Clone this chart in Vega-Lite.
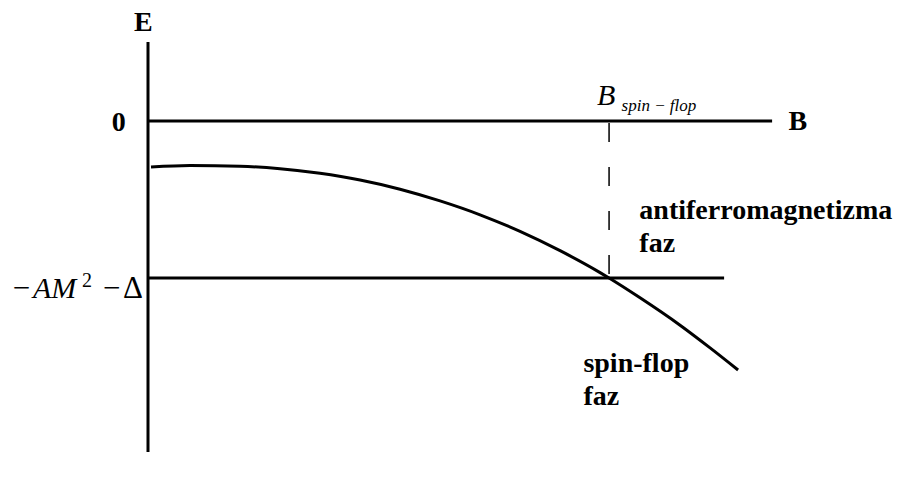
{
  "$schema": "https://vega.github.io/schema/vega-lite/v6.json",
  "width": 900,
  "height": 480,
  "autosize": {"type": "fit", "contains": "padding"},
  "padding": 0,
  "background": "white",
  "config": {"view": {"stroke": null}},
  "datasets": {
    "axes": [
      {"name": "E axis", "B1": 0, "E1": 0.503, "B2": 0, "E2": -2.108},
      {"name": "B axis", "B1": 0, "E1": 0, "B2": 1.3536, "E2": 0},
      {"name": "AF level", "B1": 0, "E1": -1, "B2": 1.2495, "E2": -1}
    ],
    "transition": [
      {"B1": 1, "E1": -0.0127, "B2": 1, "E2": -1}
    ],
    "spinflop": [
      {"B": 0.0065, "E": -0.293},
      {"B": 0.0911, "E": -0.2834},
      {"B": 0.1996, "E": -0.2879},
      {"B": 0.2863, "E": -0.3038},
      {"B": 0.3731, "E": -0.3331},
      {"B": 0.4599, "E": -0.3758},
      {"B": 0.5466, "E": -0.4344},
      {"B": 0.6334, "E": -0.5089},
      {"B": 0.7202, "E": -0.5975},
      {"B": 0.8069, "E": -0.7032},
      {"B": 0.8937, "E": -0.8261},
      {"B": 0.9805, "E": -0.9656},
      {"B": 1.0, "E": -1.0},
      {"B": 1.0672, "E": -1.1261},
      {"B": 1.154, "E": -1.3006},
      {"B": 1.2191, "E": -1.4452},
      {"B": 1.2798, "E": -1.586}
    ],
    "boldLabels": [
      {"text": "E", "B": -0.0304, "E": 0.5732},
      {"text": "0", "B": -0.0788, "E": -0.0618},
      {"text": "B", "B": 1.389, "E": -0.0573},
      {"text": "antiferromagnetizma", "B": 1.0657, "E": -0.6242},
      {"text": "faz", "B": 1.0657, "E": -0.8344},
      {"text": "spin-flop", "B": 0.9443, "E": -1.6000},
      {"text": "faz", "B": 0.9443, "E": -1.8102}
    ],
    "italicBig": [
      {"text": "B", "B": 0.974, "E": 0.105},
      {"text": "AM", "B": -0.2495, "E": -1.1274}
    ],
    "italicSub": [
      {"text": "spin − flop", "B": 1.0271, "E": 0.0637}
    ],
    "upright": [
      {"text": "−", "B": -0.2935, "E": -1.1274},
      {"text": "−", "B": -0.0976, "E": -1.1274},
      {"text": "Δ", "B": -0.0542, "E": -1.1274}
    ],
    "superscript": [
      {"text": "2", "B": -0.1432, "E": -1.0573}
    ]
  },
  "layer": [
    {
      "data": {"name": "axes"},
      "mark": {"type": "rule", "strokeWidth": 3, "color": "black", "strokeCap": "butt"},
      "encoding": {
        "x": {"field": "B1", "type": "quantitative", "scale": {"domain": [-0.321, 1.631], "nice": false, "zero": false}, "axis": null},
        "y": {"field": "E1", "type": "quantitative", "scale": {"domain": [-2.2866, 0.7707], "nice": false, "zero": false}, "axis": null},
        "x2": {"field": "B2"},
        "y2": {"field": "E2"}
      }
    },
    {
      "data": {"name": "transition"},
      "mark": {"type": "rule", "strokeWidth": 1.5, "color": "black", "strokeDash": [19, 25]},
      "encoding": {
        "x": {"field": "B1", "type": "quantitative", "axis": null},
        "y": {"field": "E1", "type": "quantitative", "axis": null},
        "x2": {"field": "B2"},
        "y2": {"field": "E2"}
      }
    },
    {
      "data": {"name": "spinflop"},
      "mark": {"type": "line", "strokeWidth": 3, "color": "black", "interpolate": "monotone"},
      "encoding": {
        "x": {"field": "B", "type": "quantitative", "axis": null},
        "y": {"field": "E", "type": "quantitative", "axis": null}
      }
    },
    {
      "data": {"name": "boldLabels"},
      "mark": {"type": "text", "font": "Liberation Serif", "fontWeight": "bold", "fontSize": 28, "align": "left", "baseline": "alphabetic", "color": "black"},
      "encoding": {
        "x": {"field": "B", "type": "quantitative", "axis": null},
        "y": {"field": "E", "type": "quantitative", "axis": null},
        "text": {"field": "text"}
      }
    },
    {
      "data": {"name": "italicBig"},
      "mark": {"type": "text", "font": "Liberation Serif", "fontStyle": "italic", "fontSize": 30, "align": "left", "baseline": "alphabetic", "color": "black"},
      "encoding": {
        "x": {"field": "B", "type": "quantitative", "axis": null},
        "y": {"field": "E", "type": "quantitative", "axis": null},
        "text": {"field": "text"}
      }
    },
    {
      "data": {"name": "italicSub"},
      "mark": {"type": "text", "font": "Liberation Serif", "fontStyle": "italic", "fontSize": 17, "align": "left", "baseline": "alphabetic", "color": "black"},
      "encoding": {
        "x": {"field": "B", "type": "quantitative", "axis": null},
        "y": {"field": "E", "type": "quantitative", "axis": null},
        "text": {"field": "text"}
      }
    },
    {
      "data": {"name": "upright"},
      "mark": {"type": "text", "font": "Liberation Serif", "fontSize": 31, "align": "left", "baseline": "alphabetic", "color": "black"},
      "encoding": {
        "x": {"field": "B", "type": "quantitative", "axis": null},
        "y": {"field": "E", "type": "quantitative", "axis": null},
        "text": {"field": "text"}
      }
    },
    {
      "data": {"name": "superscript"},
      "mark": {"type": "text", "font": "Liberation Serif", "fontSize": 20, "align": "left", "baseline": "alphabetic", "color": "black"},
      "encoding": {
        "x": {"field": "B", "type": "quantitative", "axis": null},
        "y": {"field": "E", "type": "quantitative", "axis": null},
        "text": {"field": "text"}
      }
    }
  ]
}
